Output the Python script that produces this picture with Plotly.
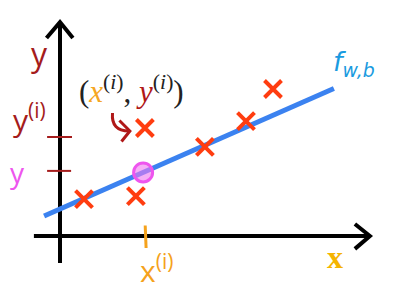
import plotly.graph_objects as go

# data (in chart units; origin at axes intersection)
x_points = [0.8, 2.53, 2.83, 4.83, 6.2, 7.1]
y_points = [1.23, 1.33, 3.6, 2.97, 3.83, 4.9]
w = 0.44
b = 0.9
line_x = [-0.53, 9.13]
x_i = 2.87
y_i = 3.3
y_hat = 2.2

fig = go.Figure()

# axes (drawn as lines)
BLACK = "#000000"
fig.add_trace(go.Scatter(x=[0, 0], y=[-0.9, 7.1], mode="lines",
                         line=dict(color=BLACK, width=4), hoverinfo="skip"))
fig.add_trace(go.Scatter(x=[-0.87, 10.3], y=[0, 0], mode="lines",
                         line=dict(color=BLACK, width=4), hoverinfo="skip"))
# arrow chevrons
fig.add_trace(go.Scatter(x=[-0.45, 0, 0.43], y=[6.6, 7.13, 6.6], mode="lines",
                         line=dict(color=BLACK, width=4), hoverinfo="skip"))
fig.add_trace(go.Scatter(x=[9.83, 10.33, 9.83], y=[0.4, 0, -0.43], mode="lines",
                         line=dict(color=BLACK, width=4), hoverinfo="skip"))

# ticks
fig.add_trace(go.Scatter(x=[-0.43, 0.4], y=[y_i, y_i], mode="lines",
                         line=dict(color="#a51c1c", width=2), hoverinfo="skip"))
fig.add_trace(go.Scatter(x=[-0.43, 0.37], y=[y_hat - 0.03, y_hat - 0.03], mode="lines",
                         line=dict(color="#a51c1c", width=2), hoverinfo="skip"))
fig.add_trace(go.Scatter(x=[x_i - 0.03, x_i], y=[0.35, -0.4], mode="lines",
                         line=dict(color="#f5a21c", width=3), hoverinfo="skip"))

# regression line
fig.add_trace(go.Scatter(x=line_x, y=[w * v + b for v in line_x], mode="lines",
                         line=dict(color="#3b82f0", width=5), hoverinfo="skip"))

# points
fig.add_trace(go.Scatter(x=x_points, y=y_points, mode="markers",
                         marker=dict(symbol="x-thin", size=17,
                                     line=dict(color="#ff3d10", width=4)),
                         hoverinfo="skip"))

# predicted point circle
fig.add_trace(go.Scatter(x=[x_i - 0.1], y=[w * (x_i - 0.1) + b], mode="markers",
                         marker=dict(symbol="circle", size=19, color="rgba(240,120,240,0.6)",
                                     line=dict(color="#ee55ee", width=3)),
                         hoverinfo="skip"))

# curved arrow
fig.add_shape(type="path", path="M 1.75 4.1 Q 1.7 3.5 2.3 3.5",
              line=dict(color="#b01818", width=3))
fig.add_trace(go.Scatter(x=[1.98, 2.33, 2.05], y=[3.85, 3.5, 3.15], mode="lines",
                         line=dict(color="#b01818", width=3), hoverinfo="skip"))

DR = "#a51c1c"
MATH = "Liberation Serif"
ann = [
    dict(x=-0.67, y=6.1, text="y", font=dict(size=32, color=DR, family="Open Sans")),
    dict(x=-1.03, y=3.95, text="y<sup>(i)</sup>", font=dict(size=30, color=DR, family="Open Sans")),
    dict(x=-1.43, y=2.15, text="y", font=dict(size=28, color="#ee55ee", family="Open Sans")),
    dict(x=2.37, y=4.9,
         text="(<i><span style='color:#f5a623'>x</span></i><sup>(<i>i</i>)</sup>, "
              "<i><span style='color:#b01818'>y</span></i><sup>(<i>i</i>)</sup>)",
         font=dict(size=31, color="#222222", family=MATH)),
    dict(x=9.8, y=5.75, text="<i>f<sub>w,b</sub></i>",
         font=dict(size=27, color="#1a9be0", family="DejaVu Sans")),
    dict(x=3.2, y=-1.1, text="x<sup>(i)</sup>",
         font=dict(size=30, color="#f5a21c", family="Open Sans")),
    dict(x=9.17, y=-0.7, text="<b>x</b>",
         font=dict(size=32, color="#f5b400", family=MATH)),
]
for a in ann:
    fig.add_annotation(showarrow=False, xanchor="center", yanchor="middle", **a)

fig.update_layout(
    width=416, height=292,
    margin=dict(l=0, r=0, t=0, b=0),
    plot_bgcolor="white", paper_bgcolor="white",
    showlegend=False,
    xaxis=dict(range=[-2, 11.867], visible=False, fixedrange=True),
    yaxis=dict(range=[-1.867, 7.867], visible=False, fixedrange=True),
)
fig.write_html("out.html")
